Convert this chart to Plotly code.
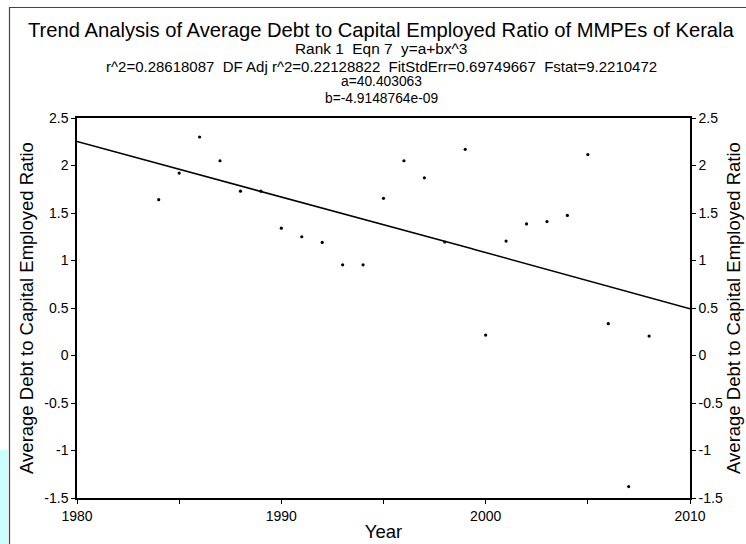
import numpy as np
import plotly.graph_objects as go

# Observed average debt to capital employed ratio by year
years = [1984, 1985, 1986, 1987, 1988, 1989, 1990, 1991, 1992, 1993, 1994,
         1995, 1996, 1997, 1998, 1999, 2000, 2001, 2002, 2003, 2004, 2005,
         2006, 2007, 2008]
ratio = [1.64, 1.92, 2.30, 2.05, 1.73, 1.73, 1.34, 1.25, 1.19, 0.955, 0.955,
         1.655, 2.05, 1.87, 1.195, 2.17, 0.215, 1.205, 1.385, 1.41, 1.475, 2.115,
         0.335, -1.38, 0.205]

# Fitted equation y = a + b*x^3
coef_a = 40.403063
coef_b = -4.9148764e-09

x_range = [1980, 2010]
y_tickvals = [-1.5, -1, -0.5, 0, 0.5, 1, 1.5, 2, 2.5]
y_ticktext = ["-1.5", "-1", "-0.5", "0", "0.5", "1", "1.5", "2", "2.5"]
x_tickvals = [1980, 1990, 2000, 2010]
x_ticktext = ["1980", "1990", "2000", "2010"]

SP = "\u00a0\u00a0"  # double space that survives SVG whitespace collapsing
title_lines = [
    ("Trend Analysis of Average Debt to Capital Employed Ratio of MMPEs of Kerala", 20.2, 30),
    ("Rank 1" + SP + "Eqn 7" + SP + "y=a+bx^3", 15.4, 48),
    ("r^2=0.28618087" + SP + "DF Adj r^2=0.22128822" + SP + "FitStdErr=0.69749667"
     + SP + "Fstat=9.2210472", 15, 66),
    ("a=40.403063", 13.8, 82),
    ("b=-4.9148764e-09", 13.8, 98),
]

FONT = "Liberation Sans, Arial, sans-serif"
W, H = 746, 544
L, R, T, B = 77, 56, 118, 46
plot_w = W - L - R
plot_h = H - T - B


def px_to_paper_x(px):
    return (px - L) / plot_w


def px_to_paper_y(py):
    return (H - B - py) / plot_h


fit_x = np.linspace(x_range[0], x_range[1], 200)
fit_y = coef_a + coef_b * fit_x ** 3

fig = go.Figure()
fig.add_trace(go.Scatter(x=fit_x, y=fit_y, mode="lines",
                         line=dict(color="black", width=1.5),
                         hoverinfo="skip", showlegend=False))
fig.add_trace(go.Scatter(x=years, y=ratio, mode="markers",
                         marker=dict(color="black", size=3.2),
                         showlegend=False))
# companion trace so the right-hand axis is rendered
fig.add_trace(go.Scatter(x=[years[0]], y=[ratio[0]], yaxis="y2", mode="markers",
                         marker=dict(opacity=0), hoverinfo="skip", showlegend=False))

axis_common = dict(showline=True, linecolor="black", linewidth=1.5,
                   ticks="outside", ticklen=4, tickcolor="black",
                   showgrid=False, zeroline=False, automargin=False,
                   tickfont=dict(family=FONT, size=14, color="black"))

fig.update_layout(
    width=W, height=H,
    margin=dict(l=L, r=R, t=T, b=B, pad=0),
    paper_bgcolor="white", plot_bgcolor="white",
    font=dict(family=FONT, color="black"),
    xaxis=dict(range=x_range, tickvals=x_tickvals, ticktext=x_ticktext,
               mirror=True,
               minor=dict(dtick=5, tick0=1980, ticks="outside", ticklen=4,
                          tickcolor="black", showgrid=False),
               title=dict(text="Year", font=dict(family=FONT, size=18.5), standoff=3),
               **axis_common),
    yaxis=dict(range=[-1.5, 2.5], tickvals=y_tickvals, ticktext=y_ticktext,
               title=dict(text="Average Debt to Capital Employed Ratio",
                          font=dict(family=FONT, size=18.5), standoff=6),
               **axis_common),
    yaxis2=dict(range=[-1.5, 2.5], tickvals=y_tickvals, ticktext=y_ticktext,
                overlaying="y", side="right",
                title=dict(text="Average Debt to Capital Employed Ratio",
                           font=dict(family=FONT, size=18.5), standoff=2),
                **axis_common),
)

annotations = []
for text, size, py in title_lines:
    annotations.append(dict(text=text, xref="paper", yref="paper",
                            x=px_to_paper_x(381), y=px_to_paper_y(py),
                            xanchor="center", yanchor="middle", showarrow=False,
                            font=dict(family=FONT, size=size, color="black")))
fig.update_layout(annotations=annotations)

# outer frame and the pale strip at the lower left edge
fig.add_shape(type="rect", xref="paper", yref="paper",
              x0=px_to_paper_x(0), x1=px_to_paper_x(8),
              y0=px_to_paper_y(560), y1=px_to_paper_y(450),
              fillcolor="#ccffff", line=dict(width=0), layer="below")
fig.add_shape(type="rect", xref="paper", yref="paper",
              x0=px_to_paper_x(9.5), x1=px_to_paper_x(800),
              y0=px_to_paper_y(600), y1=px_to_paper_y(7.5),
              fillcolor="rgba(0,0,0,0)", line=dict(color="#444444", width=1.2))

fig.write_html("out.html")
